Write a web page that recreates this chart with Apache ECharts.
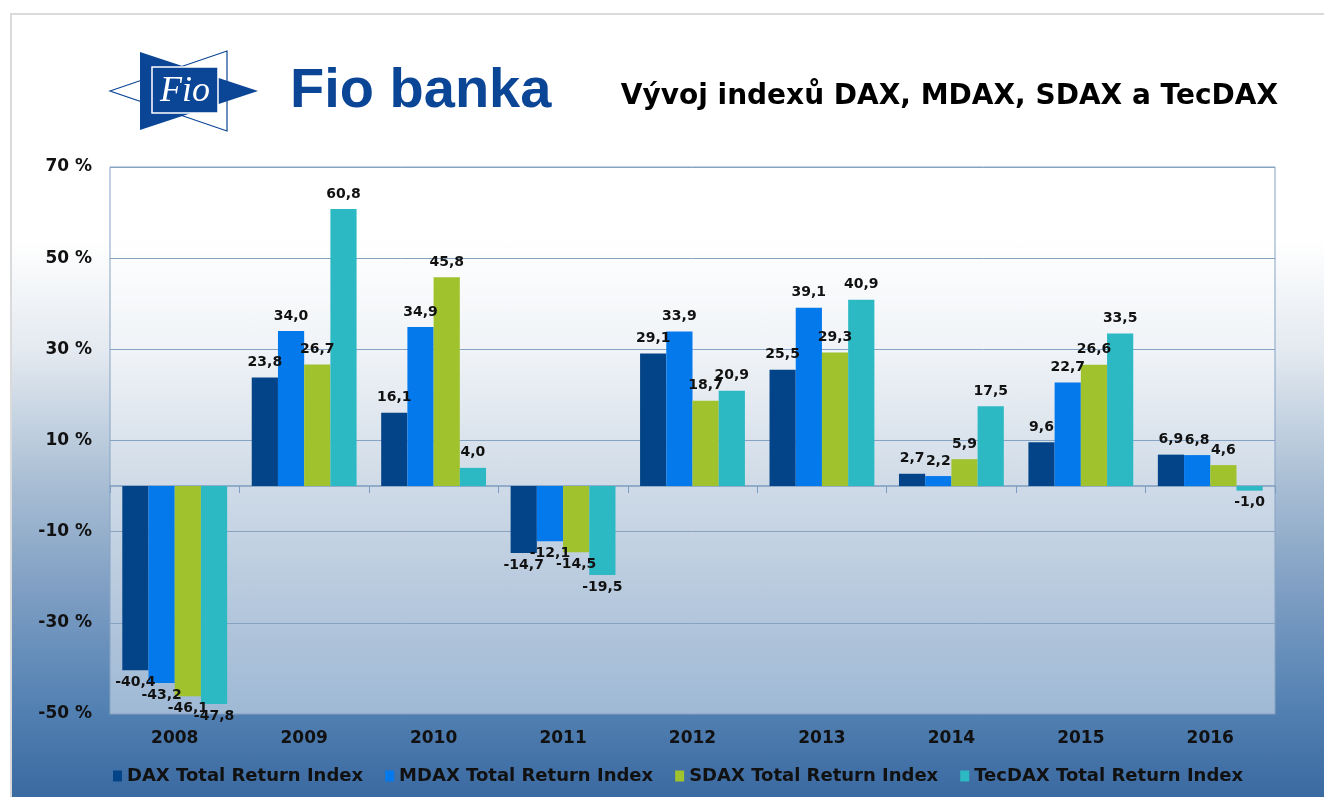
<!DOCTYPE html>
<html>
<head>
<meta charset="utf-8">
<script src="https://cdn.jsdelivr.net/npm/echarts@6/dist/echarts.min.js"></script>
<style>
  body { margin: 0; background: #fff; }
  #wrap { position: relative; width: 1324px; height: 797px; overflow: hidden; }
  /* pozadí s přechodem do modré */
  #bg {
    position: absolute; left: 10px; top: 13px; width: 1330px; height: 800px;
    border: 2px solid #dadada;
    background: linear-gradient(to bottom, #ffffff 0px, #ffffff 225px, #e3e9f0 337px,
      #a9bed4 467px, #7e9ec3 577px, #5482b3 687px, #3a69a1 784px);
  }
  #myChart { position: absolute; left: 0; top: 0; width: 1324px; height: 797px; }
</style>
</head>
<body>
<div id="wrap">
  <div id="bg"></div>
  <div id="myChart"></div>
</div>
<script>
var years = ["2008", "2009", "2010", "2011", "2012", "2013", "2014", "2015", "2016"];
var seriesNames = ["DAX Total Return Index", "MDAX Total Return Index", "SDAX Total Return Index", "TecDAX Total Return Index"];
var dax = [-40.4, 23.8, 16.1, -14.7, 29.1, 25.5, 2.7, 9.6, 6.9];
var mdax = [-43.2, 34.0, 34.9, -12.1, 33.9, 39.1, 2.2, 22.7, 6.8];
var sdax = [-46.1, 26.7, 45.8, -14.5, 18.7, 29.3, 5.9, 26.6, 4.6];
var tecdax = [-47.8, 60.8, 4.0, -19.5, 20.9, 40.9, 17.5, 33.5, -1.0];
var yMin = -50, yMax = 70, yStep = 20;

var colors = ["#034488", "#0479ec", "#a0c22d", "#2db9c3"];
var blue = "#0b4596";
var font = "'DejaVu Sans', sans-serif";

var myChart = echarts.init(document.getElementById("myChart"));

function makeSeries(name, values, color) {
  return {
    name: name,
    type: "bar",
    xAxisIndex: 0,
    yAxisIndex: 0,
    barGap: "0%",
    barCategoryGap: "19%",
    itemStyle: { color: color },
    data: values.map(function (v) {
      return {
        value: v,
        label: { position: v < 0 ? "bottom" : "top", distance: v < 0 ? 5 : 8 }
      };
    }),
    label: {
      show: true,
      color: "#111",
      fontFamily: font,
      fontWeight: "bold",
      fontSize: 14,
      formatter: function (p) { return p.value.toFixed(1).replace(".", ","); }
    }
  };
}

myChart.setOption({
  animation: false,
  textStyle: { fontFamily: font },
  title: {
    text: "Vývoj indexů DAX, MDAX, SDAX a TecDAX",
    right: 41,
    top: 78,
    textStyle: { fontSize: 28, fontWeight: "bold", color: "#000", fontFamily: font }
  },
  graphic: [
    // logo – hvězda
    { type: "polygon", shape: { points: [[110, 91], [227, 51], [227, 131]] },
      style: { fill: "#fff", stroke: blue, lineWidth: 1.2 } },
    { type: "polygon", shape: { points: [[140, 52], [140, 130], [258, 91]] },
      style: { fill: blue } },
    { type: "rect", shape: { x: 152, y: 67, width: 66, height: 46 },
      style: { fill: blue, stroke: "#fff", lineWidth: 1.5 } },
    { type: "text", x: 185, y: 92,
      style: { text: "Fio", fill: "#fff", stroke: blue, lineWidth: 1,
        font: "italic 36px 'Liberation Serif', serif", align: "center", verticalAlign: "middle" } },
    { type: "text", x: 290, y: 92,
      style: { text: "Fio banka", fill: blue,
        font: "bold 56px 'Liberation Sans', Arial, sans-serif", verticalAlign: "middle" } }
  ],
  legend: {
    left: 108,
    top: 762,
    icon: "rect",
    itemWidth: 9,
    itemHeight: 11,
    itemGap: 22,
    textStyle: { fontSize: 18, fontWeight: "bold", color: "#111", fontFamily: font },
    data: seriesNames
  },
  grid: {
    left: 110,
    right: 49,
    top: 167,
    bottom: 83,
    show: true,
    backgroundColor: "rgba(255,255,255,0.45)",
    borderColor: "#86a3c3",
    borderWidth: 1
  },
  xAxis: [
    {
      type: "category",
      data: years,
      axisLine: { onZero: true, onZeroAxisIndex: 0, lineStyle: { color: "#7d9cbf", width: 1.5 } },
      axisTick: { show: true, length: 7, lineStyle: { color: "#7d9cbf" } },
      axisLabel: { show: false }
    },
    {
      type: "category",
      data: years,
      position: "bottom",
      axisLine: { onZero: false, show: true, lineStyle: { color: "#6f8fb6" } },
      axisTick: { show: false },
      axisLabel: { margin: 16, fontSize: 17, fontWeight: "bold", color: "#111", fontFamily: font }
    }
  ],
  yAxis: [
    {
      type: "value",
      min: yMin,
      max: yMax,
      show: false,
      splitLine: { show: false }
    },
    {
      // pomocná osa jen pro popisky a mřížku (-50, -30 … 70)
      type: "value",
      min: 0,
      max: yMax - yMin,
      interval: yStep,
      position: "left",
      axisLine: { show: false },
      axisTick: { show: false },
      splitLine: { lineStyle: { color: "#86a3c3", width: 1 } },
      axisLabel: {
        margin: 18,
        fontSize: 17,
        fontWeight: "bold",
        color: "#111",
        fontFamily: font,
        formatter: function (v) { return (v + yMin) + " %"; }
      }
    }
  ],
  series: [
    makeSeries(seriesNames[0], dax, colors[0]),
    makeSeries(seriesNames[1], mdax, colors[1]),
    makeSeries(seriesNames[2], sdax, colors[2]),
    makeSeries(seriesNames[3], tecdax, colors[3])
  ]
});
</script>
</body>
</html>
